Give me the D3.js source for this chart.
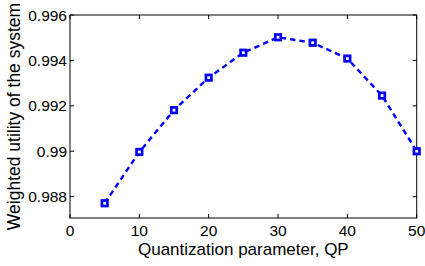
<!DOCTYPE html>
<html lang="en">
<head>
<meta charset="utf-8" />
<title>Weighted utility vs QP</title>
<script src="https://d3js.org/d3.v7.min.js"></script>
<style>
  body { margin: 0; background: #fff; }
  svg text { font-family: "Liberation Sans", Arial, sans-serif; fill: #000; }
</style>
</head>
<body>
<div id="chart"></div>
<script>
var qp = [5, 10, 15, 20, 25, 30, 35, 40, 45, 50];
var utility = [0.98771, 0.98997, 0.99181, 0.99324, 0.99434, 0.99502, 0.99478, 0.99408, 0.99245, 0.99000];
var xTicks = [0, 10, 20, 30, 40, 50];
var yTicks = [0.988, 0.99, 0.992, 0.994, 0.996];

(function() {
  'use strict';
  var width = 425, height = 266;
  var left = 70, right = 416.7, top = 15, bottom = 218;

  var svg = d3.select('#chart').append('svg')
    .attr('width', width).attr('height', height);

  var x = d3.scaleLinear().domain([0, 50]).range([left, right]);
  var y = d3.scaleLinear().domain([0.98706, 0.996]).range([bottom, top]);

  var tickLen = 4;
  var fmt = function(d) { return String(+d.toFixed(3)); };

  // box
  svg.append('rect')
    .attr('x', left).attr('y', top)
    .attr('width', right - left).attr('height', bottom - top)
    .attr('fill', 'none').attr('stroke', '#000').attr('stroke-width', 1);

  // inward ticks on all four sides
  var ax = svg.append('g').attr('stroke', '#000').attr('stroke-width', 1);
  xTicks.forEach(function(t) {
    ax.append('line').attr('x1', x(t)).attr('x2', x(t)).attr('y1', bottom).attr('y2', bottom - tickLen);
    ax.append('line').attr('x1', x(t)).attr('x2', x(t)).attr('y1', top).attr('y2', top + tickLen);
  });
  yTicks.forEach(function(t) {
    ax.append('line').attr('x1', left).attr('x2', left + tickLen).attr('y1', y(t)).attr('y2', y(t));
    ax.append('line').attr('x1', right).attr('x2', right - tickLen).attr('y1', y(t)).attr('y2', y(t));
  });

  svg.selectAll('.xtick').data(xTicks).enter().append('text')
    .attr('class', 'xtick')
    .attr('x', function(d) { return x(d); })
    .attr('y', bottom + 18)
    .attr('text-anchor', 'middle')
    .style('font-size', '15.5px')
    .text(function(d) { return d; });

  svg.selectAll('.ytick').data(yTicks).enter().append('text')
    .attr('class', 'ytick')
    .attr('x', left - 3)
    .attr('y', function(d) { return y(d) + 5.5; })
    .attr('text-anchor', 'end')
    .style('font-size', '15.5px')
    .text(fmt);

  svg.append('text')
    .attr('x', (left + right) / 2)
    .attr('y', bottom + 37)
    .attr('text-anchor', 'middle')
    .style('font-size', '17px')
    .text('Quantization parameter, QP');

  svg.append('text')
    .attr('transform', 'translate(' + 20 + ',' + ((top + bottom) / 2) + ') rotate(-90)')
    .attr('text-anchor', 'middle')
    .style('font-size', '17.5px')
    .text('Weighted utility of the system');

  var data = qp.map(function(d, i) { return { qp: d, u: utility[i] }; });

  var line = d3.line()
    .x(function(d) { return x(d.qp); })
    .y(function(d) { return y(d.u); });

  svg.append('path')
    .datum(data)
    .attr('d', line)
    .attr('fill', 'none')
    .attr('stroke', '#0000ff')
    .attr('stroke-width', 2.4)
    .attr('stroke-dasharray', '5.5,4');

  var s = 5.5;
  svg.selectAll('.marker').data(data).enter().append('rect')
    .attr('class', 'marker')
    .attr('x', function(d) { return x(d.qp) - s / 2; })
    .attr('y', function(d) { return y(d.u) - s / 2; })
    .attr('width', s).attr('height', s)
    .attr('fill', '#fff')
    .attr('stroke', '#0000ff')
    .attr('stroke-width', 2.7);
})();
</script>
</body>
</html>
